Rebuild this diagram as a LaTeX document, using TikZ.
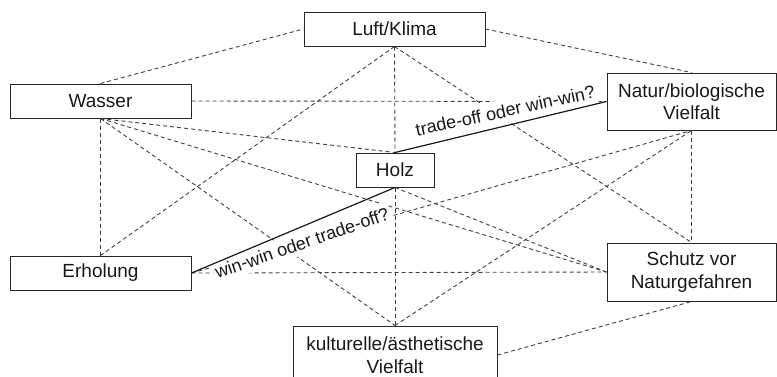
\documentclass[tikz,border=0pt]{standalone}
\usepackage{fontspec}
\setmainfont{Liberation Sans}
\begin{document}
\begin{tikzpicture}[x=1pt,y=-1pt,
  box/.style={draw=black!85, line width=1pt, fill=white, inner sep=0pt, align=center,
              font=\fontsize{19}{22.5}\selectfont, text=black!90},
  dl/.style={draw=black!75, line width=0.9pt, dash pattern=on 4pt off 3pt},
  sl/.style={draw=black!90, line width=1.2pt},
  lab/.style={fill=white, font=\fontsize{18}{20}\selectfont, text=black!90,
              inner xsep=2pt, inner ysep=5pt, anchor=base}
]
\clip (0,0) rectangle (777,376);
\fill[white] (0,0) rectangle (777,376);

\node[box, minimum width=181pt, minimum height=34pt] (L) at (394.5,29) {Luft/Klima};
\node[box, minimum width=181pt, minimum height=34pt] (W) at (100.5,101) {Wasser};
\node[box, minimum width=169pt, minimum height=57pt] (N) at (691.5,101.5) {Natur/biologische\\Vielfalt};
\node[box, minimum width=78pt, minimum height=34pt] (H) at (395,170) {Holz};
\node[box, minimum width=181pt, minimum height=34pt] (E) at (100.5,273) {Erholung};
\node[box, minimum width=169pt, minimum height=58pt] (S) at (691.5,272) {Schutz vor\\Naturgefahren};
\node[box, minimum width=204pt, minimum height=58pt] (K) at (395,355) {kulturelle/ästhetische\\Vielfalt};

% dashed connections
\draw[dl] (W.north) -- (L.west);
\draw[dl] (L.east) -- (N.north);
\draw[dl] (W.east) -- (N.west);
\draw[dl] (L.south) -- (S.north);
\draw[dl] (L.south) -- (H.north);
\draw[dl] (L.south) -- (E.north);
\draw[dl] (W.south) -- (E.north);
\draw[dl] (W.south) -- (H.north);
\draw[dl] (W.south) -- (S.west);
\draw[dl] (W.south) -- (K.north);
\draw[dl] (H.south) -- (S.west);
\draw[dl] (E.east) -- (N.south);
\draw[dl] (E.east) -- (S.west);
\draw[dl] (H.south) -- (K.north);
\draw[dl] (K.north) -- (N.south);
\draw[dl] (K.east) -- (S.south);
\draw[dl] (N.south) -- (S.north);

% labels
\node[lab, rotate=12.1] (t1) at (506.5,117) {trade-off oder win-win?};
\node[lab, rotate=19] (t2) at (304,249) {win-win oder trade-off?};

% solid connections
\draw[sl] (H.north) -- (N.west);
\draw[sl] (E.east) -- (H.south);
\end{tikzpicture}
\end{document}
